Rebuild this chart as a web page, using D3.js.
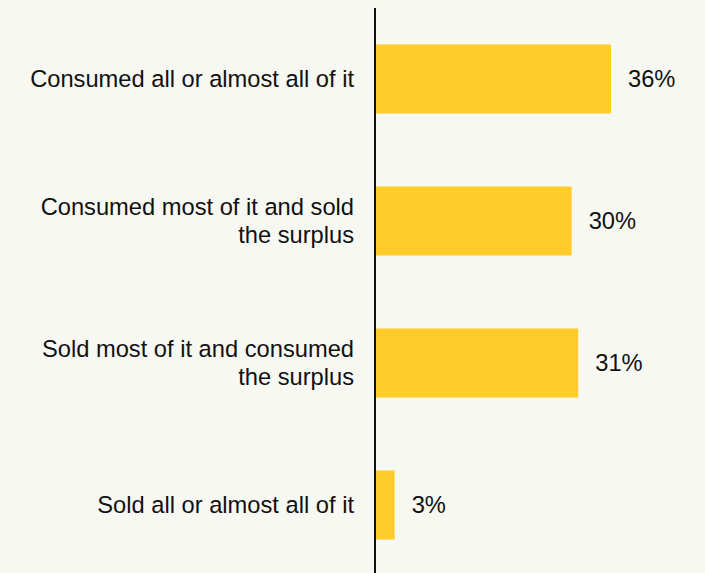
<!DOCTYPE html>
<html>
<head>
<meta charset="utf-8">
<script src="https://cdn.jsdelivr.net/npm/d3@7"></script>
<style>
  html, body { margin: 0; padding: 0; background: #f8f8f3; }
  svg { display: block; }
  text { font-family: "Liberation Sans", Arial, sans-serif; fill: #111; }
</style>
</head>
<body>
<svg id="chart" width="705" height="573"></svg>
<script>
// Survey answers and shares (%)
const categories = [
  "Consumed all or almost all of it",
  "Consumed most of it and sold the surplus",
  "Sold most of it and consumed the surplus",
  "Sold all or almost all of it"
];
const labelLines = [
  ["Consumed all or almost all of it"],
  ["Consumed most of it and sold", "the surplus"],
  ["Sold most of it and consumed", "the surplus"],
  ["Sold all or almost all of it"]
];
const values = [36, 30, 31, 3];

const W = 705, H = 573;
const x0 = 375;
const svg = d3.select("#chart");

const x = d3.scaleLinear().domain([0, 36]).range([x0, 611]);
const y = d3.scaleBand().domain(categories).range([8, 576])
  .paddingInner(0.514).paddingOuter(0.257);

const rows = categories.map((c, i) => ({ c, v: values[i], lines: labelLines[i] }));

svg.selectAll("rect.bar").data(rows).join("rect")
  .attr("class", "bar")
  .attr("x", x(0))
  .attr("y", d => y(d.c))
  .attr("width", d => x(d.v) - x(0))
  .attr("height", y.bandwidth())
  .attr("fill", "#ffcc2a");

// Category labels, right-aligned against the axis
const fs = 23.7, lh = 28;
svg.selectAll("text.cat").data(rows).join("text")
  .attr("class", "cat")
  .attr("text-anchor", "end")
  .attr("font-size", fs)
  .each(function(d) {
    const cy = y(d.c) + y.bandwidth() / 2;
    const n = d.lines.length;
    d3.select(this).selectAll("tspan").data(d.lines).join("tspan")
      .attr("x", 354)
      .attr("y", (l, j) => cy + (j - (n - 1) / 2) * lh)
      .attr("dy", "0.35em")
      .text(l => l);
  });

// Value labels
svg.selectAll("text.val").data(rows).join("text")
  .attr("class", "val")
  .attr("x", d => x(d.v) + 17)
  .attr("y", d => y(d.c) + y.bandwidth() / 2)
  .attr("dy", "0.35em")
  .attr("font-size", fs)
  .text(d => d.v + "%");

// Baseline axis
svg.append("line")
  .attr("x1", x0).attr("x2", x0)
  .attr("y1", 8).attr("y2", H)
  .attr("stroke", "#111").attr("stroke-width", 2);
</script>
</body>
</html>
